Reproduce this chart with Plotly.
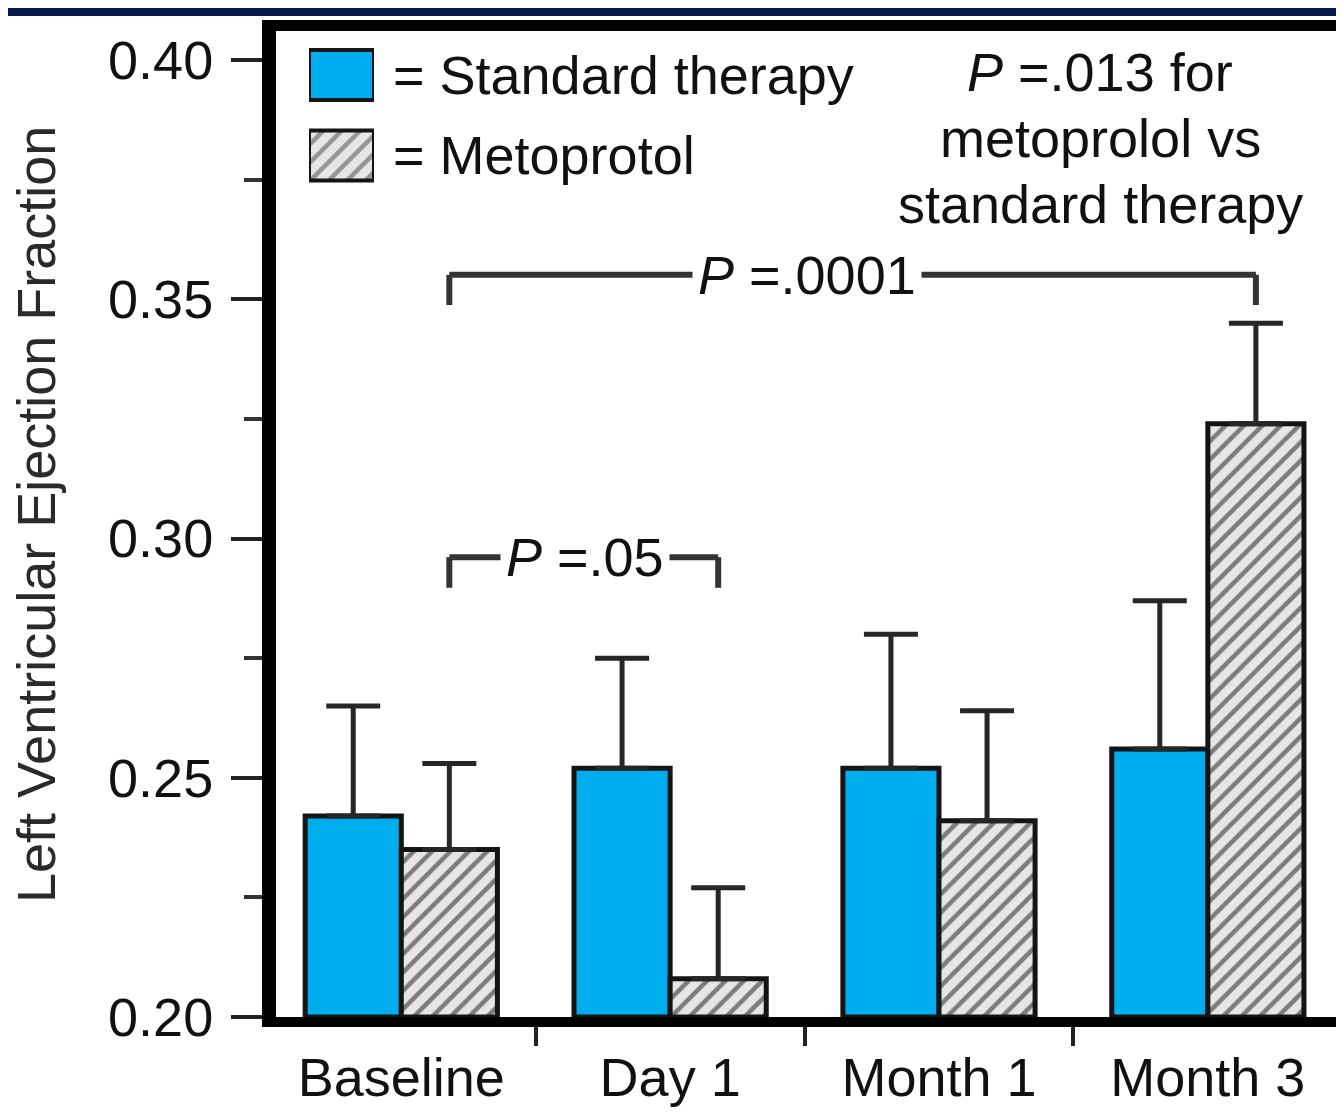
import plotly.graph_objects as go

# ---- data ----
categories = ["Baseline", "Day 1", "Month 1", "Month 3"]
standard_vals = [0.242, 0.252, 0.252, 0.256]
standard_err = [0.023, 0.023, 0.028, 0.031]
metoprolol_vals = [0.235, 0.208, 0.241, 0.324]
metoprolol_err = [0.018, 0.019, 0.023, 0.021]
y_tickvals = [0.20, 0.25, 0.30, 0.35, 0.40]
y_minorvals = [0.225, 0.275, 0.325, 0.375]
y_title = "Left Ventricular Ejection Fraction"
note_lines = ["<i>P</i> =.013 for", "metoprolol vs", "standard therapy"]

# ---- geometry helpers (page pixel -> paper) ----
# the page body has an 8px margin, so the figure starts at (8, 8)
OFF = 8
FW, FH = 1344 - OFF, 1116 - 16
L, R, T, B = 276, 1342, 33, 1019   # plot area in page pixels
PW, PH = R - L, B - T


def px(x):
    return (x - L) / PW


def py(y):
    return (B - y) / PH


FONT = "Liberation Sans, Arial, sans-serif"
FS = 54
BLUE = "#00adef"
HATCH_BG = "#e6e6e6"
HATCH_FG = "#111111"
DARK = "#141414"

fig = go.Figure()

fig.add_trace(go.Bar(
    x=categories, y=[v - 0.20 for v in standard_vals], base=0.20,
    name="Standard therapy", showlegend=False,
    marker=dict(color=BLUE, line=dict(color=DARK, width=5)),
    error_y=dict(type="data", symmetric=False, array=standard_err,
                 arrayminus=[0] * len(standard_err), color="#262626",
                 thickness=5, width=27),
))
fig.add_trace(go.Bar(
    x=categories, y=[v - 0.20 for v in metoprolol_vals], base=0.20,
    name="Metoprotol", showlegend=False,
    marker=dict(color=HATCH_BG, line=dict(color=DARK, width=5),
                pattern=dict(shape="/", fgcolor=HATCH_FG, bgcolor=HATCH_BG,
                             size=13, solidity=0.35)),
    error_y=dict(type="data", symmetric=False, array=metoprolol_err,
                 arrayminus=[0] * len(metoprolol_err), color="#262626",
                 thickness=5, width=27),
))

# legend swatches drawn as bars on a small overlay axis
fig.add_trace(go.Bar(
    x=[1, 1], y=[1, 0], orientation="h", base=0, width=0.62,
    xaxis="x2", yaxis="y2", showlegend=False, cliponaxis=False,
    hoverinfo="skip",
    marker=dict(color=[BLUE, HATCH_BG], line=dict(color=DARK, width=4),
                pattern=dict(shape=["", "/"], fgcolor=HATCH_FG,
                             size=13, solidity=0.35)),
))

ux = 80.5  # pixel distance between swatch centres
fig.update_layout(
    width=FW, height=FH,
    margin=dict(l=L - OFF, r=(FW + OFF) - R, t=T - OFF, b=(FH + OFF) - B),
    paper_bgcolor="white", plot_bgcolor="white",
    barmode="group", bargap=0.285, bargroupgap=0,
    font=dict(family=FONT, size=FS, color="#111111"),
    showlegend=False,
    xaxis=dict(
        type="category", range=[-0.466, 3.499], tickson="boundaries",
        ticks="outside", ticklen=26, tickwidth=4, tickcolor="#222",
        showline=False, showgrid=False, zeroline=False, automargin=False,
        tickfont=dict(size=FS, family=FONT, color="#111"),
        ticklabelstandoff=22,
    ),
    yaxis=dict(
        range=[0.199582, 0.405643], tickvals=y_tickvals,
        tickformat=".2f", ticks="outside", ticklen=44, tickwidth=4,
        tickcolor="#222", showline=False, showgrid=False, zeroline=False,
        automargin=False,
        tickfont=dict(size=FS, family=FONT, color="#111"),
        ticklabelstandoff=7,
        minor=dict(tickvals=y_minorvals, ticks="outside", ticklen=31,
                   tickwidth=4, tickcolor="#333"),
    ),
    xaxis2=dict(domain=[px(309), px(374)], range=[0, 1], anchor="y2",
                visible=False, fixedrange=True, automargin=False),
    yaxis2=dict(domain=[py(75 + 1.5 * ux), py(75 - 0.5 * ux)],
                range=[-0.5, 1.5], anchor="x2", visible=False,
                fixedrange=True, automargin=False),
)

shapes = []
# navy band on top
shapes.append(dict(type="rect", xref="paper", yref="paper",
                   x0=px(0), x1=px(1350), y0=py(16), y1=py(0),
                   fillcolor="#011a4a", line=dict(width=0), layer="above"))
# frame
shapes.append(dict(type="line", xref="paper", yref="paper",
                   x0=px(262), x1=px(1350), y0=py(25.5), y1=py(25.5),
                   line=dict(color="black", width=11), layer="above"))
shapes.append(dict(type="line", xref="paper", yref="paper",
                   x0=px(269), x1=px(269), y0=py(20), y1=py(1027),
                   line=dict(color="black", width=14), layer="above"))
shapes.append(dict(type="line", xref="paper", yref="paper",
                   x0=px(262), x1=px(1350), y0=py(1022), y1=py(1022),
                   line=dict(color="black", width=10), layer="above"))
shapes.append(dict(type="line", xref="paper", yref="paper",
                   x0=px(1342.5), x1=px(1342.5), y0=py(25), y1=py(1022),
                   line=dict(color="black", width=2), layer="above"))

# significance brackets (data coords)
met_off = (1 - 0.285) / 4
bcol = "#333333"


def bracket(xa, xb, ytop, ybot):
    return [
        dict(type="line", xref="x", yref="y", x0=xa, x1=xb, y0=ytop, y1=ytop,
             line=dict(color=bcol, width=6)),
        dict(type="line", xref="x", yref="y", x0=xa, x1=xa, y0=ytop, y1=ybot,
             line=dict(color=bcol, width=6)),
        dict(type="line", xref="x", yref="y", x0=xb, x1=xb, y0=ytop, y1=ybot,
             line=dict(color=bcol, width=6)),
    ]


shapes += bracket(0 + met_off, 3 + met_off, 0.3551, 0.3488)
shapes += bracket(0 + met_off, 1 + met_off, 0.2961, 0.2897)

annotations = [
    dict(text="<i>P</i> =.0001", x=1.51, y=0.3551, xref="x", yref="y",
         xanchor="center", yanchor="middle",
         showarrow=False, bgcolor="white", borderpad=5,
         font=dict(size=FS, family=FONT, color="#111")),
    dict(text="<i>P</i> =.05", x=0.685, y=0.2961, xref="x", yref="y",
         xanchor="center", yanchor="middle",
         showarrow=False, bgcolor="white", borderpad=5,
         font=dict(size=FS, family=FONT, color="#111")),
    dict(text="= Standard therapy", x=px(391), y=py(75), xref="paper",
         yref="paper", xanchor="left", yanchor="middle", showarrow=False,
         font=dict(size=FS, family=FONT, color="#111")),
    dict(text="= Metoprotol", x=px(391), y=py(155), xref="paper",
         yref="paper", xanchor="left", yanchor="middle", showarrow=False,
         font=dict(size=FS, family=FONT, color="#111")),
    dict(text=y_title, x=px(36), y=py(515), xref="paper", yref="paper",
         textangle=-90, xanchor="center", yanchor="middle", showarrow=False,
         font=dict(size=FS, family=FONT, color="#2a2a2a")),
]
for line_text, ypix in zip(note_lines, [72, 138, 204]):
    annotations.append(dict(
        text=line_text, x=px(1100), y=py(ypix), xref="paper", yref="paper",
        xanchor="center", yanchor="middle", showarrow=False,
        font=dict(size=FS, family=FONT, color="#111")))

fig.update_layout(shapes=shapes, annotations=annotations)

fig.write_html("out.html")
